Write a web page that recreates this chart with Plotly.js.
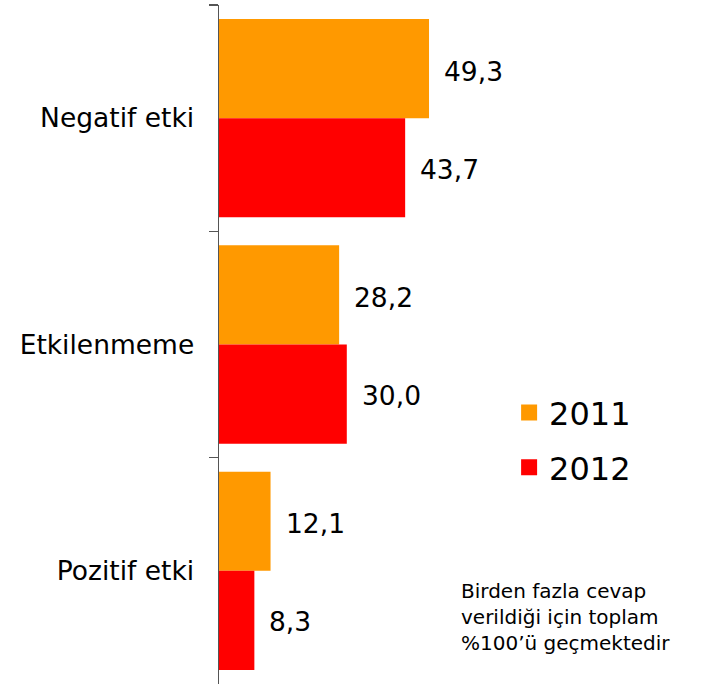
<!DOCTYPE html>
<html>
<head>
<meta charset="utf-8">
<script src="https://cdn.plot.ly/plotly-3.0.1.min.js"></script>
<style>html,body{margin:0;padding:0;background:#fff;}#chart{width:708px;height:684px;}</style>
</head>
<body>
<div id="chart"></div>
<script>
const categories = ["Negatif etki", "Etkilenmeme", "Pozitif etki"];
const values2011 = [49.3, 28.2, 12.1];
const values2012 = [43.7, 30.0, 8.3];
const seriesNames = ["2011", "2012"];
const noteText = "Birden fazla cevap<br>verildiği için toplam<br>%100’ü geçmektedir";

const colors = ["#FF9900", "#FF0000"];
const fontFam = "DejaVu Sans, Verdana, sans-serif";
const fmt = v => v.toFixed(1).replace(".", ",");

const series = [values2011, values2012];
const traces = [];
series.forEach((vals, i) => {
  traces.push({
    type: "bar", orientation: "h",
    x: vals, y: categories, name: seriesNames[i],
    marker: {color: colors[i]}, showlegend: false, hoverinfo: "none"
  });
});
series.forEach((vals, i) => {
  traces.push({
    type: "scatter", mode: "markers",
    x: [null], y: [categories[0]], name: seriesNames[i],
    legendgroup: "g" + i,
    marker: {color: colors[i], symbol: "square", size: 18},
    showlegend: true, hoverinfo: "none"
  });
});

const annotations = [];
series.forEach((vals, i) => {
  vals.forEach((v, j) => {
    annotations.push({
      x: v, y: categories[j], xref: "x", yref: "y",
      text: fmt(v), showarrow: false, xanchor: "left", yanchor: "middle",
      xshift: 13, yshift: i === 0 ? 47 : -51,
      font: {family: fontFam, size: 26.5, color: "#000"}
    });
  });
});
annotations.push({
  xref: "paper", yref: "paper", x: 0.563, y: 0.158,
  xanchor: "left", yanchor: "top", align: "left", showarrow: false,
  text: noteText, font: {family: fontFam, size: 20, color: "#000"}
});

const layout = {
  width: 708, height: 684,
  margin: {l: 219, r: 63, t: 5, b: 0},
  paper_bgcolor: "#fff", plot_bgcolor: "#fff",
  barmode: "group", bargap: 0.124, bargroupgap: 0,
  font: {family: fontFam, color: "#000"},
  xaxis: {range: [0, 100], visible: false, fixedrange: true},
  yaxis: {
    type: "category", autorange: "reversed",
    showline: true, linecolor: "#555", linewidth: 1.5,
    ticks: "outside", tickson: "boundaries", ticklen: 9, tickcolor: "#555", tickwidth: 1.5,
    ticklabelstandoff: 18,
    showgrid: false, zeroline: false,
    tickfont: {family: fontFam, size: 26.5, color: "#000"}
  },
  showlegend: true,
  legend: {
    x: 0.681, y: 0.44, xanchor: "left", yanchor: "top",
    traceorder: "grouped",
    font: {family: fontFam, size: 32, color: "#000"},
    bgcolor: "rgba(0,0,0,0)", tracegroupgap: 10
  },
  annotations: annotations
};

Plotly.newPlot("chart", traces, layout, {displayModeBar: false, staticPlot: true});
</script>
</body>
</html>
